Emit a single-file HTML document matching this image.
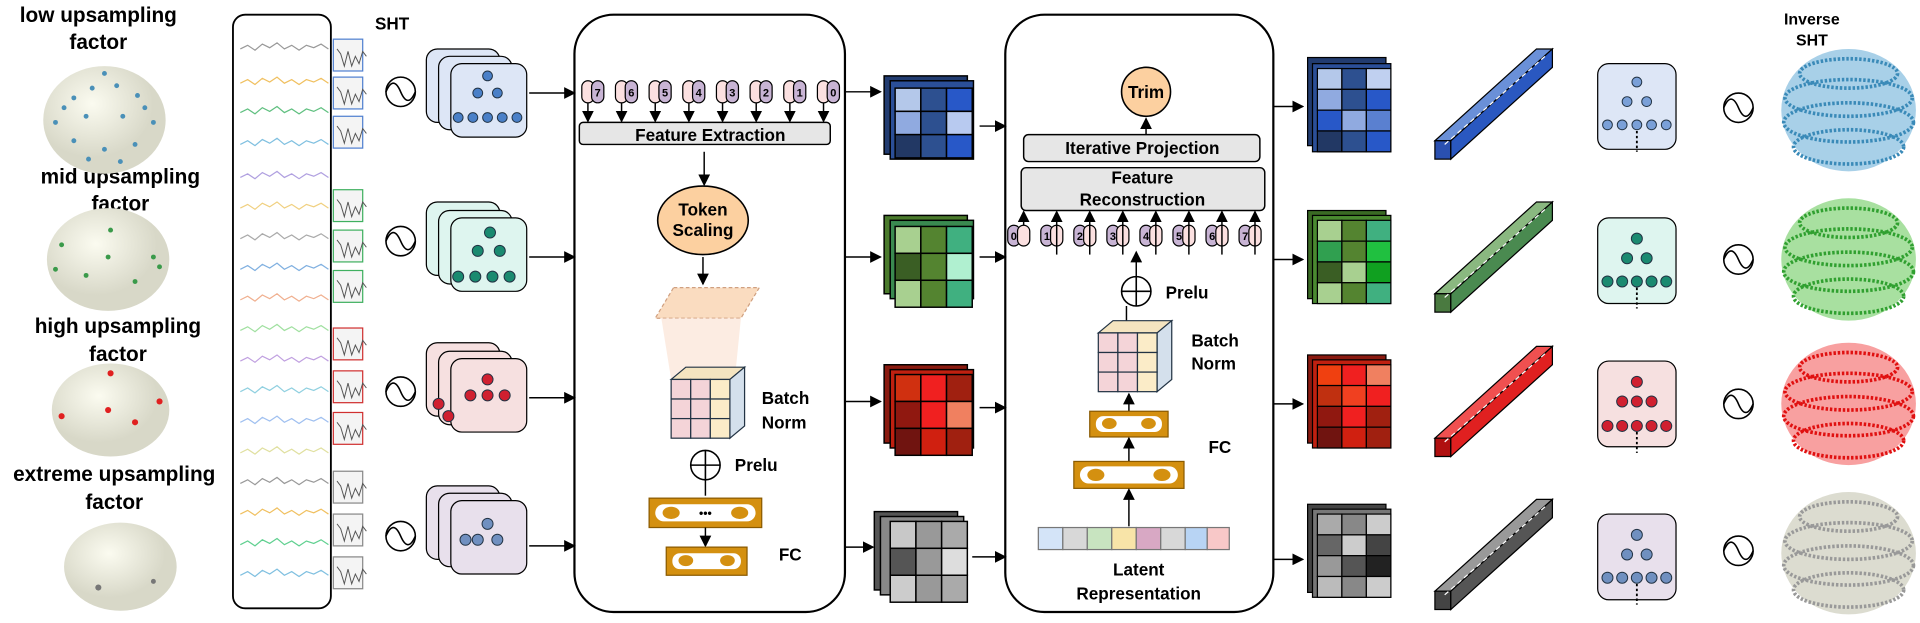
<!DOCTYPE html>
<html><head><meta charset="utf-8"><style>
html,body{margin:0;padding:0;background:#fff;}
svg{display:block;}
text{font-family:"Liberation Sans",Arial,sans-serif;font-weight:bold;fill:#000;}
</style></head><body>
<svg width="1920" height="623" viewBox="0 0 1568 509" xmlns="http://www.w3.org/2000/svg">
<defs>
<marker id="a" markerWidth="8" markerHeight="8" refX="7" refY="4" orient="auto"><path d="M0,0 L8,4 L0,8z" fill="#000"/></marker>
<radialGradient id="sg" cx="40%" cy="35%"><stop offset="0" stop-color="#fbfbf0"/><stop offset="1" stop-color="#d8d8c8"/></radialGradient>
</defs>
<g font-size="17" text-anchor="middle">
<text x="80" y="18">low upsampling</text><text x="80" y="40">factor</text>
<text x="98" y="150">mid upsampling</text><text x="98" y="172">factor</text>
<text x="96" y="272">high upsampling</text><text x="96" y="295">factor</text>
<text x="93" y="393">extreme upsampling</text><text x="93" y="416">factor</text>
</g>
<ellipse cx="85" cy="98" rx="50" ry="44" fill="url(#sg)"/>
<ellipse cx="88" cy="212" rx="50" ry="42" fill="url(#sg)"/>
<ellipse cx="90" cy="335" rx="48" ry="38" fill="url(#sg)"/>
<ellipse cx="98" cy="463" rx="46" ry="36" fill="url(#sg)"/>
<g fill="#4a90b8"><circle cx="60" cy="80" r="2"/><circle cx="75" cy="72" r="2"/><circle cx="95" cy="70" r="2"/><circle cx="112" cy="78" r="2"/><circle cx="45" cy="100" r="2"/><circle cx="125" cy="100" r="2"/><circle cx="60" cy="115" r="2"/><circle cx="85" cy="122" r="2"/><circle cx="110" cy="118" r="2"/><circle cx="70" cy="95" r="2"/><circle cx="100" cy="95" r="2"/><circle cx="85" cy="60" r="2"/><circle cx="52" cy="88" r="2"/><circle cx="118" cy="88" r="2"/><circle cx="72" cy="130" r="2"/><circle cx="98" cy="132" r="2"/></g>
<g fill="#3a9a4a"><circle cx="50" cy="200" r="2"/><circle cx="90" cy="188" r="2"/><circle cx="125" cy="210" r="2"/><circle cx="70" cy="225" r="2"/><circle cx="110" cy="230" r="2"/><circle cx="88" cy="210" r="2"/><circle cx="45" cy="220" r="2"/><circle cx="130" cy="218" r="2"/></g>
<g fill="#e02020"><circle cx="90" cy="305" r="2.5"/><circle cx="50" cy="340" r="2.5"/><circle cx="130" cy="328" r="2.5"/><circle cx="88" cy="335" r="2.5"/><circle cx="110" cy="345" r="2.5"/></g>
<g fill="#777"><circle cx="80" cy="480" r="2.5"/><circle cx="125" cy="475" r="2"/></g>
<rect x="190" y="12" width="80" height="485" rx="10" fill="#fff" stroke="#000" stroke-width="1.5"/>
<g fill="none" stroke-width="1">
<path d="M196 40 l6 -3 l6 4 l6 -5 l6 3 l6 -4 l6 5 l6 -3 l6 4 l6 -4 l6 2 l6 -3 l6 4" stroke="#999"/>
<path d="M196 68 l6 -3 l6 4 l6 -5 l6 3 l6 -4 l6 5 l6 -3 l6 4 l6 -4 l6 2 l6 -3 l6 4" stroke="#f0c060"/>
<path d="M196 92 l6 -3 l6 4 l6 -5 l6 3 l6 -4 l6 5 l6 -3 l6 4 l6 -4 l6 2 l6 -3 l6 4" stroke="#60c080"/>
<path d="M196 118 l6 -3 l6 4 l6 -5 l6 3 l6 -4 l6 5 l6 -3 l6 4 l6 -4 l6 2 l6 -3 l6 4" stroke="#80c0e0"/>
<path d="M196 145 l6 -3 l6 4 l6 -5 l6 3 l6 -4 l6 5 l6 -3 l6 4 l6 -4 l6 2 l6 -3 l6 4" stroke="#b0a0e0"/>
<path d="M196 170 l6 -3 l6 4 l6 -5 l6 3 l6 -4 l6 5 l6 -3 l6 4 l6 -4 l6 2 l6 -3 l6 4" stroke="#f0d080"/>
<path d="M196 195 l6 -3 l6 4 l6 -5 l6 3 l6 -4 l6 5 l6 -3 l6 4 l6 -4 l6 2 l6 -3 l6 4" stroke="#aaa"/>
<path d="M196 220 l6 -3 l6 4 l6 -5 l6 3 l6 -4 l6 5 l6 -3 l6 4 l6 -4 l6 2 l6 -3 l6 4" stroke="#80b0e0"/>
<path d="M196 245 l6 -3 l6 4 l6 -5 l6 3 l6 -4 l6 5 l6 -3 l6 4 l6 -4 l6 2 l6 -3 l6 4" stroke="#f0b090"/>
<path d="M196 270 l6 -3 l6 4 l6 -5 l6 3 l6 -4 l6 5 l6 -3 l6 4 l6 -4 l6 2 l6 -3 l6 4" stroke="#a0e0a0"/>
<path d="M196 295 l6 -3 l6 4 l6 -5 l6 3 l6 -4 l6 5 l6 -3 l6 4 l6 -4 l6 2 l6 -3 l6 4" stroke="#c0a0e0"/>
<path d="M196 320 l6 -3 l6 4 l6 -5 l6 3 l6 -4 l6 5 l6 -3 l6 4 l6 -4 l6 2 l6 -3 l6 4" stroke="#90d0e0"/>
<path d="M196 345 l6 -3 l6 4 l6 -5 l6 3 l6 -4 l6 5 l6 -3 l6 4 l6 -4 l6 2 l6 -3 l6 4" stroke="#a0c0f0"/>
<path d="M196 370 l6 -3 l6 4 l6 -5 l6 3 l6 -4 l6 5 l6 -3 l6 4 l6 -4 l6 2 l6 -3 l6 4" stroke="#e0e0a0"/>
<path d="M196 395 l6 -3 l6 4 l6 -5 l6 3 l6 -4 l6 5 l6 -3 l6 4 l6 -4 l6 2 l6 -3 l6 4" stroke="#999"/>
<path d="M196 420 l6 -3 l6 4 l6 -5 l6 3 l6 -4 l6 5 l6 -3 l6 4 l6 -4 l6 2 l6 -3 l6 4" stroke="#f0c060"/>
<path d="M196 445 l6 -3 l6 4 l6 -5 l6 3 l6 -4 l6 5 l6 -3 l6 4 l6 -4 l6 2 l6 -3 l6 4" stroke="#60d090"/>
<path d="M196 470 l6 -3 l6 4 l6 -5 l6 3 l6 -4 l6 5 l6 -3 l6 4 l6 -4 l6 2 l6 -3 l6 4" stroke="#80c0e0"/>
</g>
<g fill="#f4f4f4" stroke-width="1">
<rect x="272" y="32" width="24" height="26" stroke="#5080d0"/><rect x="272" y="63" width="24" height="26" stroke="#5080d0"/><rect x="272" y="95" width="24" height="26" stroke="#5080d0"/>
<rect x="272" y="155" width="24" height="26" stroke="#40b060"/><rect x="272" y="188" width="24" height="26" stroke="#40b060"/><rect x="272" y="221" width="24" height="26" stroke="#40b060"/>
<rect x="272" y="268" width="24" height="26" stroke="#d03030"/><rect x="272" y="303" width="24" height="26" stroke="#d03030"/><rect x="272" y="337" width="24" height="26" stroke="#d03030"/>
<rect x="272" y="385" width="24" height="26" stroke="#888"/><rect x="272" y="420" width="24" height="26" stroke="#888"/><rect x="272" y="455" width="24" height="26" stroke="#888"/>
</g>
<g fill="none" stroke="#555" stroke-width="0.8">
<path d="M275 40 l3 4 l3 10 l3 -12 l3 12 l3 -8 l3 6 l3 -10 l3 4"/><path d="M275 71 l3 4 l3 10 l3 -12 l3 12 l3 -8 l3 6 l3 -10 l3 4"/><path d="M275 103 l3 4 l3 10 l3 -12 l3 12 l3 -8 l3 6 l3 -10 l3 4"/>
<path d="M275 163 l3 4 l3 10 l3 -12 l3 12 l3 -8 l3 6 l3 -10 l3 4"/><path d="M275 196 l3 4 l3 10 l3 -12 l3 12 l3 -8 l3 6 l3 -10 l3 4"/><path d="M275 229 l3 4 l3 10 l3 -12 l3 12 l3 -8 l3 6 l3 -10 l3 4"/>
<path d="M275 276 l3 4 l3 10 l3 -12 l3 12 l3 -8 l3 6 l3 -10 l3 4"/><path d="M275 311 l3 4 l3 10 l3 -12 l3 12 l3 -8 l3 6 l3 -10 l3 4"/><path d="M275 345 l3 4 l3 10 l3 -12 l3 12 l3 -8 l3 6 l3 -10 l3 4"/>
<path d="M275 393 l3 4 l3 10 l3 -12 l3 12 l3 -8 l3 6 l3 -10 l3 4"/><path d="M275 428 l3 4 l3 10 l3 -12 l3 12 l3 -8 l3 6 l3 -10 l3 4"/><path d="M275 463 l3 4 l3 10 l3 -12 l3 12 l3 -8 l3 6 l3 -10 l3 4"/>
</g>
<text x="320" y="24" font-size="14" text-anchor="middle">SHT</text>
<g fill="none" stroke="#000" stroke-width="1.3">
<circle cx="327" cy="75" r="12"/><path d="M315 75 q6 -14 12 0 t12 0"/>
<circle cx="327" cy="197" r="12"/><path d="M315 197 q6 -14 12 0 t12 0"/>
<circle cx="327" cy="320" r="12"/><path d="M315 320 q6 -14 12 0 t12 0"/>
<circle cx="327" cy="438" r="12"/><path d="M315 438 q6 -14 12 0 t12 0"/>
<circle cx="1420" cy="88" r="12"/><path d="M1408 88 q6 -14 12 0 t12 0"/>
<circle cx="1420" cy="212" r="12"/><path d="M1408 212 q6 -14 12 0 t12 0"/>
<circle cx="1420" cy="330" r="12"/><path d="M1408 330 q6 -14 12 0 t12 0"/>
<circle cx="1420" cy="450" r="12"/><path d="M1408 450 q6 -14 12 0 t12 0"/>
</g>
<g stroke="#000" stroke-width="1">
<rect x="348" y="40" width="60" height="60" rx="9" fill="#dde6f6"/><rect x="358" y="46" width="60" height="60" rx="9" fill="#dde6f6"/><rect x="368" y="52" width="62" height="60" rx="9" fill="#dde6f6"/>
<rect x="348" y="165" width="60" height="60" rx="9" fill="#def5ef"/><rect x="358" y="172" width="60" height="60" rx="9" fill="#def5ef"/><rect x="368" y="178" width="62" height="60" rx="9" fill="#def5ef"/>
<rect x="348" y="280" width="60" height="60" rx="9" fill="#f6e0e0"/><rect x="358" y="287" width="60" height="60" rx="9" fill="#f6e0e0"/><rect x="368" y="293" width="62" height="60" rx="9" fill="#f6e0e0"/>
<rect x="348" y="397" width="60" height="60" rx="9" fill="#e8e0ec"/><rect x="358" y="403" width="60" height="60" rx="9" fill="#e8e0ec"/><rect x="368" y="409" width="62" height="60" rx="9" fill="#e8e0ec"/>
</g>
<g stroke="#234" stroke-width="0.8">
<g fill="#4a80c8"><circle cx="398" cy="62" r="4"/><circle cx="390" cy="76" r="4"/><circle cx="406" cy="76" r="4"/><circle cx="374" cy="96" r="4"/><circle cx="386" cy="96" r="4"/><circle cx="398" cy="96" r="4"/><circle cx="410" cy="96" r="4"/><circle cx="422" cy="96" r="4"/></g>
<g fill="#1a8a70"><circle cx="400" cy="190" r="4.5"/><circle cx="390" cy="205" r="4.5"/><circle cx="408" cy="205" r="4.5"/><circle cx="374" cy="226" r="4.5"/><circle cx="388" cy="226" r="4.5"/><circle cx="402" cy="226" r="4.5"/><circle cx="416" cy="226" r="4.5"/></g>
<g fill="#d02030"><circle cx="398" cy="310" r="4.5"/><circle cx="384" cy="323" r="4.5"/><circle cx="398" cy="323" r="4.5"/><circle cx="412" cy="323" r="4.5"/><circle cx="358" cy="330" r="4.5"/><circle cx="366" cy="340" r="4.5"/></g>
<g fill="#7090c0"><circle cx="398" cy="428" r="4.5"/><circle cx="390" cy="441" r="4.5"/><circle cx="406" cy="441" r="4.5"/><circle cx="380" cy="441" r="4.5"/></g>
</g>
<g stroke="#000" stroke-width="1.2" marker-end="url(#a)">
<line x1="432" y1="76" x2="469" y2="76"/><line x1="432" y1="210" x2="469" y2="210"/><line x1="432" y1="325" x2="469" y2="325"/><line x1="432" y1="446" x2="469" y2="446"/>
</g>
<rect x="469" y="12" width="221" height="488" rx="32" fill="none" stroke="#000" stroke-width="1.8"/>
<g stroke="#000" stroke-width="1">
<g id="tk"><rect x="475" y="66" width="10" height="18" rx="5" fill="#fbe0e0"/><rect x="483" y="66" width="10" height="18" rx="5" fill="#c8b4d4"/></g>
<use href="#tk" x="27.5"/><use href="#tk" x="55"/><use href="#tk" x="82.5"/><use href="#tk" x="110"/><use href="#tk" x="137.5"/><use href="#tk" x="165"/><use href="#tk" x="192.5"/>
</g>
<g font-size="9" font-weight="normal" text-anchor="middle"><text x="488" y="79">7</text><text x="515.5" y="79">6</text><text x="543" y="79">5</text><text x="570.5" y="79">4</text><text x="598" y="79">3</text><text x="625.5" y="79">2</text><text x="653" y="79">1</text><text x="680.5" y="79">0</text></g>
<g stroke="#000" stroke-width="1.2" marker-end="url(#a)">
<line x1="480" y1="84" x2="480" y2="99"/><line x1="507.5" y1="84" x2="507.5" y2="99"/><line x1="535" y1="84" x2="535" y2="99"/><line x1="562.5" y1="84" x2="562.5" y2="99"/><line x1="590" y1="84" x2="590" y2="99"/><line x1="617.5" y1="84" x2="617.5" y2="99"/><line x1="645" y1="84" x2="645" y2="99"/><line x1="672.5" y1="84" x2="672.5" y2="99"/>
</g>
<rect x="473" y="100" width="205" height="18" rx="3" fill="#e6e6e6" stroke="#000" stroke-width="1.2"/>
<text x="580" y="115" font-size="14" text-anchor="middle">Feature Extraction</text>
<line x1="575" y1="124" x2="575" y2="151" stroke="#000" stroke-width="1.2" marker-end="url(#a)"/>
<ellipse cx="574" cy="180" rx="37" ry="28" fill="#fcd0a0" stroke="#000" stroke-width="1.3"/>
<text x="574" y="176" font-size="14" text-anchor="middle">Token</text><text x="574" y="193" font-size="14" text-anchor="middle">Scaling</text>
<line x1="574" y1="210" x2="574" y2="232" stroke="#000" stroke-width="1.2" marker-end="url(#a)"/>
<path d="M550 235 L620 235 L605 260 L535 260 Z" fill="#fadcc0" stroke="#d0a080" stroke-dasharray="3 2"/>
<path d="M540 260 L548 310 L600 310 L605 260 Z" fill="#fbe4d6" opacity="0.7"/>
<g stroke="#234" stroke-width="1">
<path d="M548 310 l12 -10 h48 l-12 10z" fill="#f4e4c0"/><path d="M596 310 l12 -10 v48 l-12 10z" fill="#d4e0ec"/>
<rect x="548" y="310" width="16" height="16" fill="#f4d4d8"/><rect x="564" y="310" width="16" height="16" fill="#f4d4d8"/><rect x="580" y="310" width="16" height="16" fill="#fbecc8"/>
<rect x="548" y="326" width="16" height="16" fill="#f4d4d8"/><rect x="564" y="326" width="16" height="16" fill="#f4d4d8"/><rect x="580" y="326" width="16" height="16" fill="#fbecc8"/>
<rect x="548" y="342" width="16" height="16" fill="#f4d4d8"/><rect x="564" y="342" width="16" height="16" fill="#f4d4d8"/><rect x="580" y="342" width="16" height="16" fill="#fbecc8"/>
</g>
<text x="622" y="330" font-size="14">Batch</text><text x="622" y="350" font-size="14">Norm</text>
<circle cx="576" cy="380" r="12" fill="#fff" stroke="#000" stroke-width="1.3"/><path d="M564 380 h24 M576 368 v24" stroke="#000" stroke-width="1.3"/>
<text x="600" y="385" font-size="14">Prelu</text>
<line x1="576" y1="392" x2="576" y2="405" stroke="#000" stroke-width="1.2"/>
<rect x="530" y="407" width="92" height="24" fill="#d49010" stroke="#8a5a00"/><rect x="535" y="412" width="82" height="14" rx="7" fill="#fff"/><ellipse cx="548" cy="419" rx="7" ry="5" fill="#d49010"/><ellipse cx="604" cy="419" rx="7" ry="5" fill="#d49010"/><text x="576" y="423" font-size="10" text-anchor="middle">•••</text>
<line x1="576" y1="431" x2="576" y2="446" stroke="#000" stroke-width="1.2" marker-end="url(#a)"/>
<rect x="544" y="447" width="66" height="23" fill="#d49010" stroke="#8a5a00"/><rect x="549" y="452" width="56" height="13" rx="6" fill="#fff"/><ellipse cx="560" cy="458" rx="6" ry="4.5" fill="#d49010"/><ellipse cx="594" cy="458" rx="6" ry="4.5" fill="#d49010"/>
<text x="636" y="458" font-size="14">FC</text>
<g stroke="#000" stroke-width="1.2">
<rect x="722" y="62" width="68" height="64" fill="#223c70"/><rect x="727" y="66" width="68" height="64" fill="#2b4f98"/>
<rect x="731" y="72" width="21" height="19" fill="#b4c8ea"/><rect x="752" y="72" width="21" height="19" fill="#2d5090"/><rect x="773" y="72" width="21" height="19" fill="#2858c8"/>
<rect x="731" y="91" width="21" height="19" fill="#90aae0"/><rect x="752" y="91" width="21" height="19" fill="#2d5090"/><rect x="773" y="91" width="21" height="19" fill="#b8caf0"/>
<rect x="731" y="110" width="21" height="19" fill="#223864"/><rect x="752" y="110" width="21" height="19" fill="#2d5090"/><rect x="773" y="110" width="21" height="19" fill="#2858c8"/>
<rect x="722" y="176" width="68" height="64" fill="#4a7a2c"/><rect x="727" y="180" width="68" height="64" fill="#3a8a50"/>
<rect x="731" y="185" width="21" height="22" fill="#a8d090"/><rect x="752" y="185" width="21" height="22" fill="#548430"/><rect x="773" y="185" width="21" height="22" fill="#40b080"/>
<rect x="731" y="207" width="21" height="22" fill="#3a5e24"/><rect x="752" y="207" width="21" height="22" fill="#548430"/><rect x="773" y="207" width="21" height="22" fill="#b0f0d0"/>
<rect x="731" y="229" width="21" height="22" fill="#a8d090"/><rect x="752" y="229" width="21" height="22" fill="#548430"/><rect x="773" y="229" width="21" height="22" fill="#40b080"/>
<rect x="722" y="298" width="68" height="64" fill="#8a1a10"/><rect x="727" y="302" width="68" height="64" fill="#c02010"/>
<rect x="731" y="306" width="21" height="22" fill="#d03010"/><rect x="752" y="306" width="21" height="22" fill="#f02020"/><rect x="773" y="306" width="21" height="22" fill="#a02010"/>
<rect x="731" y="328" width="21" height="22" fill="#901810"/><rect x="752" y="328" width="21" height="22" fill="#f02020"/><rect x="773" y="328" width="21" height="22" fill="#f08060"/>
<rect x="731" y="350" width="21" height="22" fill="#701410"/><rect x="752" y="350" width="21" height="22" fill="#d02010"/><rect x="773" y="350" width="21" height="22" fill="#a02010"/>
<rect x="714" y="418" width="68" height="64" fill="#555"/><rect x="719" y="422" width="68" height="64" fill="#888"/>
<rect x="727" y="426" width="21" height="22" fill="#c8c8c8"/><rect x="748" y="426" width="21" height="22" fill="#999"/><rect x="769" y="426" width="21" height="22" fill="#aaa"/>
<rect x="727" y="448" width="21" height="22" fill="#555"/><rect x="748" y="448" width="21" height="22" fill="#999"/><rect x="769" y="448" width="21" height="22" fill="#ddd"/>
<rect x="727" y="470" width="21" height="22" fill="#ccc"/><rect x="748" y="470" width="21" height="22" fill="#999"/><rect x="769" y="470" width="21" height="22" fill="#aaa"/>
</g>
<g stroke="#000" stroke-width="1.2" marker-end="url(#a)">
<line x1="690" y1="75" x2="719" y2="75"/><line x1="690" y1="210" x2="719" y2="210"/><line x1="690" y1="328" x2="719" y2="328"/><line x1="690" y1="447" x2="713" y2="447"/>
<line x1="800" y1="103" x2="821" y2="103"/><line x1="800" y1="210" x2="821" y2="210"/><line x1="800" y1="333" x2="821" y2="333"/><line x1="794" y1="455" x2="821" y2="455"/>
</g>
<rect x="821" y="12" width="219" height="488" rx="32" fill="none" stroke="#000" stroke-width="1.8"/>
<circle cx="936" cy="75" r="20" fill="#fcd0a0" stroke="#000" stroke-width="1.3"/><text x="936" y="80" font-size="14" text-anchor="middle">Trim</text>
<line x1="936" y1="110" x2="936" y2="97" stroke="#000" stroke-width="1.2" marker-end="url(#a)"/>
<rect x="836" y="110" width="193" height="22" rx="4" fill="#e6e6e6" stroke="#000" stroke-width="1.2"/>
<text x="933" y="126" font-size="14" text-anchor="middle">Iterative Projection</text>
<rect x="834" y="137" width="199" height="35" rx="4" fill="#e6e6e6" stroke="#000" stroke-width="1.2"/>
<text x="933" y="150" font-size="14" text-anchor="middle">Feature</text><text x="933" y="168" font-size="14" text-anchor="middle">Reconstruction</text>
<g stroke="#000" stroke-width="1">
<g id="tk2"><rect x="823" y="184" width="10" height="17" rx="5" fill="#c8b4d4"/><rect x="831" y="184" width="10" height="17" rx="5" fill="#fbe0e0"/></g>
<use href="#tk2" x="27"/><use href="#tk2" x="54"/><use href="#tk2" x="81"/><use href="#tk2" x="108"/><use href="#tk2" x="135"/><use href="#tk2" x="162"/><use href="#tk2" x="189"/>
</g>
<g font-size="9" font-weight="normal" text-anchor="middle"><text x="828" y="196">0</text><text x="855" y="196">1</text><text x="882" y="196">2</text><text x="909" y="196">3</text><text x="936" y="196">4</text><text x="963" y="196">5</text><text x="990" y="196">6</text><text x="1017" y="196">7</text></g>
<g stroke="#000" stroke-width="1.2" marker-end="url(#a)">
<line x1="836" y1="184" x2="836" y2="173"/><line x1="863" y1="208" x2="863" y2="173"/><line x1="890" y1="208" x2="890" y2="173"/><line x1="917" y1="208" x2="917" y2="173"/><line x1="944" y1="208" x2="944" y2="173"/><line x1="971" y1="208" x2="971" y2="173"/><line x1="998" y1="208" x2="998" y2="173"/><line x1="1025" y1="208" x2="1025" y2="173"/>
<line x1="928" y1="226" x2="928" y2="206"/>
</g>
<circle cx="928" cy="238" r="12" fill="#fff" stroke="#000" stroke-width="1.3"/><path d="M916 238 h24 M928 226 v24" stroke="#000" stroke-width="1.3"/>
<text x="952" y="244" font-size="14">Prelu</text>
<line x1="920" y1="262" x2="920" y2="250" stroke="#000" stroke-width="1.2"/>
<g stroke="#234" stroke-width="1">
<path d="M897 272 l12 -10 h48 l-12 10z" fill="#f4e4c0"/><path d="M945 272 l12 -10 v48 l-12 10z" fill="#d4e0ec"/>
<rect x="897" y="272" width="16" height="16" fill="#f4d4d8"/><rect x="913" y="272" width="16" height="16" fill="#f4d4d8"/><rect x="929" y="272" width="16" height="16" fill="#fbecc8"/>
<rect x="897" y="288" width="16" height="16" fill="#f4d4d8"/><rect x="913" y="288" width="16" height="16" fill="#f4d4d8"/><rect x="929" y="288" width="16" height="16" fill="#fbecc8"/>
<rect x="897" y="304" width="16" height="16" fill="#f4d4d8"/><rect x="913" y="304" width="16" height="16" fill="#f4d4d8"/><rect x="929" y="304" width="16" height="16" fill="#fbecc8"/>
</g>
<text x="973" y="283" font-size="14">Batch</text><text x="973" y="302" font-size="14">Norm</text>
<line x1="922" y1="336" x2="922" y2="322" stroke="#000" stroke-width="1.2" marker-end="url(#a)"/>
<rect x="890" y="336" width="64" height="21" fill="#d49010" stroke="#8a5a00"/><rect x="895" y="340" width="54" height="13" rx="6" fill="#fff"/><ellipse cx="906" cy="346" rx="6" ry="4.5" fill="#d49010"/><ellipse cx="938" cy="346" rx="6" ry="4.5" fill="#d49010"/>
<line x1="922" y1="377" x2="922" y2="358" stroke="#000" stroke-width="1.2" marker-end="url(#a)"/>
<rect x="877" y="377" width="90" height="22" fill="#d49010" stroke="#8a5a00"/><rect x="882" y="381" width="80" height="14" rx="7" fill="#fff"/><ellipse cx="895" cy="388" rx="7" ry="5" fill="#d49010"/><ellipse cx="949" cy="388" rx="7" ry="5" fill="#d49010"/>
<text x="987" y="370" font-size="14">FC</text>
<line x1="922" y1="430" x2="922" y2="400" stroke="#000" stroke-width="1.2" marker-end="url(#a)"/>
<g stroke="#777" stroke-width="1">
<rect x="848" y="431" width="20" height="18" fill="#d4e4f8"/><rect x="868" y="431" width="20" height="18" fill="#d8d8d8"/><rect x="888" y="431" width="20" height="18" fill="#c8e4c0"/><rect x="908" y="431" width="20" height="18" fill="#f8e4a8"/><rect x="928" y="431" width="20" height="18" fill="#d8a8c4"/><rect x="948" y="431" width="20" height="18" fill="#d8d8d8"/><rect x="968" y="431" width="18" height="18" fill="#b8d4f4"/><rect x="986" y="431" width="18" height="18" fill="#f8c8c8"/>
</g>
<text x="930" y="470" font-size="14" text-anchor="middle">Latent</text><text x="930" y="490" font-size="14" text-anchor="middle">Representation</text>
<g stroke="#000" stroke-width="1">
<rect x="1068" y="47" width="64" height="72" fill="#223c70"/><rect x="1072" y="52" width="64" height="72" fill="#2b4f98"/>
<rect x="1076" y="56" width="20" height="17" fill="#b4c8ea"/><rect x="1096" y="56" width="20" height="17" fill="#2d5090"/><rect x="1116" y="56" width="20" height="17" fill="#c0d0f0"/>
<rect x="1076" y="73" width="20" height="17" fill="#90aae0"/><rect x="1096" y="73" width="20" height="17" fill="#2d5090"/><rect x="1116" y="73" width="20" height="17" fill="#2858c8"/>
<rect x="1076" y="90" width="20" height="17" fill="#2858c8"/><rect x="1096" y="90" width="20" height="17" fill="#90aae0"/><rect x="1116" y="90" width="20" height="17" fill="#5a80d0"/>
<rect x="1076" y="107" width="20" height="17" fill="#223864"/><rect x="1096" y="107" width="20" height="17" fill="#2d5090"/><rect x="1116" y="107" width="20" height="17" fill="#2858c8"/>
<rect x="1068" y="172" width="64" height="72" fill="#3a6a24"/><rect x="1072" y="176" width="64" height="72" fill="#4a8a30"/>
<rect x="1076" y="180" width="20" height="17" fill="#a8d090"/><rect x="1096" y="180" width="20" height="17" fill="#548430"/><rect x="1116" y="180" width="20" height="17" fill="#40b080"/>
<rect x="1076" y="197" width="20" height="17" fill="#30a050"/><rect x="1096" y="197" width="20" height="17" fill="#548430"/><rect x="1116" y="197" width="20" height="17" fill="#20c040"/>
<rect x="1076" y="214" width="20" height="17" fill="#3a5e24"/><rect x="1096" y="214" width="20" height="17" fill="#a8d090"/><rect x="1116" y="214" width="20" height="17" fill="#10a020"/>
<rect x="1076" y="231" width="20" height="17" fill="#a8d090"/><rect x="1096" y="231" width="20" height="17" fill="#548430"/><rect x="1116" y="231" width="20" height="17" fill="#40b080"/>
<rect x="1068" y="290" width="64" height="72" fill="#8a1a10"/><rect x="1072" y="294" width="64" height="72" fill="#c02010"/>
<rect x="1076" y="298" width="20" height="17" fill="#f04010"/><rect x="1096" y="298" width="20" height="17" fill="#f02020"/><rect x="1116" y="298" width="20" height="17" fill="#f08060"/>
<rect x="1076" y="315" width="20" height="17" fill="#c03010"/><rect x="1096" y="315" width="20" height="17" fill="#f04020"/><rect x="1116" y="315" width="20" height="17" fill="#f02020"/>
<rect x="1076" y="332" width="20" height="17" fill="#901810"/><rect x="1096" y="332" width="20" height="17" fill="#f02020"/><rect x="1116" y="332" width="20" height="17" fill="#a02010"/>
<rect x="1076" y="349" width="20" height="17" fill="#701410"/><rect x="1096" y="349" width="20" height="17" fill="#d02010"/><rect x="1116" y="349" width="20" height="17" fill="#a02010"/>
<rect x="1068" y="412" width="64" height="72" fill="#444"/><rect x="1072" y="416" width="64" height="72" fill="#777"/>
<rect x="1076" y="420" width="20" height="17" fill="#aaa"/><rect x="1096" y="420" width="20" height="17" fill="#888"/><rect x="1116" y="420" width="20" height="17" fill="#ccc"/>
<rect x="1076" y="437" width="20" height="17" fill="#666"/><rect x="1096" y="437" width="20" height="17" fill="#ccc"/><rect x="1116" y="437" width="20" height="17" fill="#444"/>
<rect x="1076" y="454" width="20" height="17" fill="#999"/><rect x="1096" y="454" width="20" height="17" fill="#555"/><rect x="1116" y="454" width="20" height="17" fill="#222"/>
<rect x="1076" y="471" width="20" height="17" fill="#bbb"/><rect x="1096" y="471" width="20" height="17" fill="#888"/><rect x="1116" y="471" width="20" height="17" fill="#ccc"/>
</g>
<g stroke="#000" stroke-width="1.2" marker-end="url(#a)">
<line x1="1040" y1="87" x2="1064" y2="87"/><line x1="1040" y1="212" x2="1064" y2="212"/><line x1="1040" y1="330" x2="1064" y2="330"/><line x1="1040" y1="457" x2="1064" y2="457"/>
</g>
<g stroke="#000" stroke-width="1">
<path d="M1172 115 L1255 40 L1268 40 L1185 115Z" fill="#6a90d8"/><path d="M1172 115 h13 v15 h-13z" fill="#2a50b0"/><path d="M1185 115 L1268 40 v15 L1185 130Z" fill="#2a58c0"/>
<path d="M1172 240 L1255 165 L1268 165 L1185 240Z" fill="#8ab880"/><path d="M1172 240 h13 v15 h-13z" fill="#4a7a40"/><path d="M1185 240 L1268 165 v15 L1185 255Z" fill="#4a8a50"/>
<path d="M1172 358 L1255 283 L1268 283 L1185 358Z" fill="#f05050"/><path d="M1172 358 h13 v15 h-13z" fill="#b01010"/><path d="M1185 358 L1268 283 v15 L1185 373Z" fill="#e02020"/>
<path d="M1172 483 L1255 408 L1268 408 L1185 483Z" fill="#999"/><path d="M1172 483 h13 v15 h-13z" fill="#444"/><path d="M1185 483 L1268 408 v15 L1185 498Z" fill="#555"/>
</g>
<g stroke="#fff" stroke-dasharray="4 3" stroke-width="1"><line x1="1180" y1="118" x2="1262" y2="46"/><line x1="1180" y1="243" x2="1262" y2="171"/><line x1="1180" y1="361" x2="1262" y2="289"/><line x1="1180" y1="486" x2="1262" y2="414"/></g>
<g stroke="#000" stroke-width="1">
<rect x="1305" y="52" width="64" height="70" rx="9" fill="#dde6f6"/><rect x="1305" y="178" width="64" height="70" rx="9" fill="#def5ef"/><rect x="1305" y="295" width="64" height="70" rx="9" fill="#f6e0e0"/><rect x="1305" y="420" width="64" height="70" rx="9" fill="#e8e0ec"/>
</g>
<g stroke="#234" stroke-width="0.8">
<g fill="#7aa0d8"><circle cx="1337" cy="67" r="4"/><circle cx="1329" cy="83" r="4"/><circle cx="1345" cy="83" r="4"/><circle cx="1313" cy="102" r="4"/><circle cx="1325" cy="102" r="4"/><circle cx="1337" cy="102" r="4"/><circle cx="1349" cy="102" r="4"/><circle cx="1361" cy="102" r="4"/></g>
<g fill="#1a8a70"><circle cx="1337" cy="195" r="4.5"/><circle cx="1329" cy="211" r="4.5"/><circle cx="1345" cy="211" r="4.5"/><circle cx="1313" cy="230" r="4.5"/><circle cx="1325" cy="230" r="4.5"/><circle cx="1337" cy="230" r="4.5"/><circle cx="1349" cy="230" r="4.5"/><circle cx="1361" cy="230" r="4.5"/></g>
<g fill="#d02030"><circle cx="1337" cy="312" r="4.5"/><circle cx="1325" cy="328" r="4.5"/><circle cx="1337" cy="328" r="4.5"/><circle cx="1349" cy="328" r="4.5"/><circle cx="1313" cy="348" r="4.5"/><circle cx="1325" cy="348" r="4.5"/><circle cx="1337" cy="348" r="4.5"/><circle cx="1349" cy="348" r="4.5"/><circle cx="1361" cy="348" r="4.5"/></g>
<g fill="#7090c0"><circle cx="1337" cy="437" r="4.5"/><circle cx="1329" cy="453" r="4.5"/><circle cx="1345" cy="453" r="4.5"/><circle cx="1313" cy="472" r="4.5"/><circle cx="1325" cy="472" r="4.5"/><circle cx="1337" cy="472" r="4.5"/><circle cx="1349" cy="472" r="4.5"/><circle cx="1361" cy="472" r="4.5"/></g>
</g>
<g stroke="#000" stroke-width="1.5" stroke-dasharray="2 2"><line x1="1337" y1="107" x2="1337" y2="124"/><line x1="1337" y1="235" x2="1337" y2="252"/><line x1="1337" y1="353" x2="1337" y2="370"/><line x1="1337" y1="477" x2="1337" y2="494"/></g>
<text x="1480" y="20" font-size="13" text-anchor="middle">Inverse</text><text x="1480" y="37" font-size="13" text-anchor="middle">SHT</text>
<g fill="none" stroke-width="3" stroke-dasharray="2 1.5">
<g stroke="#3a8ab8"><ellipse cx="1510" cy="90" rx="55" ry="50" fill="#a8d0e8" stroke-dasharray="none" stroke-width="0"/><ellipse cx="1510" cy="60" rx="40" ry="12"/><ellipse cx="1510" cy="80" rx="52" ry="15"/><ellipse cx="1510" cy="100" rx="53" ry="16"/><ellipse cx="1510" cy="120" rx="45" ry="14"/></g>
<g stroke="#30a030"><ellipse cx="1510" cy="212" rx="55" ry="50" fill="#a8e0a0" stroke-dasharray="none" stroke-width="0"/><ellipse cx="1510" cy="182" rx="40" ry="12"/><ellipse cx="1510" cy="202" rx="52" ry="15"/><ellipse cx="1510" cy="222" rx="53" ry="16"/><ellipse cx="1510" cy="242" rx="45" ry="14"/></g>
<g stroke="#e01010"><ellipse cx="1510" cy="330" rx="55" ry="50" fill="#f8a0a0" stroke-dasharray="none" stroke-width="0"/><ellipse cx="1510" cy="300" rx="40" ry="12"/><ellipse cx="1510" cy="320" rx="52" ry="15"/><ellipse cx="1510" cy="340" rx="53" ry="16"/><ellipse cx="1510" cy="360" rx="45" ry="14"/></g>
<g stroke="#999"><ellipse cx="1510" cy="452" rx="55" ry="50" fill="#dcdcd0" stroke-dasharray="none" stroke-width="0"/><ellipse cx="1510" cy="422" rx="40" ry="12"/><ellipse cx="1510" cy="442" rx="52" ry="15"/><ellipse cx="1510" cy="462" rx="53" ry="16"/><ellipse cx="1510" cy="482" rx="45" ry="14"/></g>
</g>
</svg>
</body></html>
